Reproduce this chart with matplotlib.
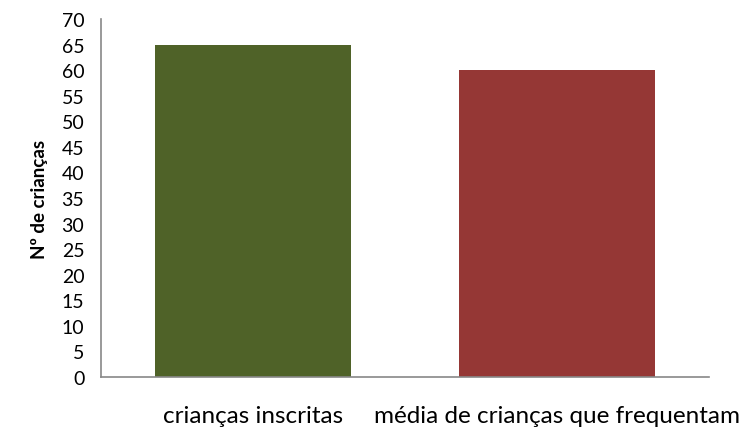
import matplotlib
matplotlib.use("Agg")
import matplotlib.pyplot as plt

categories = ["crianças inscritas", "média de crianças que frequentam"]
values = [65, 60]
colors = ["#4F6228", "#953735"]
yticks = list(range(0, 75, 5))

plt.rcParams['font.family'] = ['Lato', 'DejaVu Sans']

fig = plt.figure(figsize=(7.47, 4.31), dpi=100)
ax = fig.add_axes([101/747, 1-378/431, 608/747, 358/431])
x = [0, 1]
ax.bar(x, values, width=0.645, color=colors)
ax.set_xlim(-0.5, 1.5)
ax.set_ylim(0, 70)
ax.set_yticks(yticks)
ax.tick_params(axis='y', length=0, labelsize=14, pad=12)
ax.tick_params(axis='x', length=0, labelsize=17.5, pad=20)
ax.set_xticks(x)
ax.set_xticklabels(categories)
for s in ['top', 'right']:
    ax.spines[s].set_visible(False)
for s in ['left', 'bottom']:
    ax.spines[s].set_color('#888888')
    ax.spines[s].set_linewidth(1.2)
ax.set_ylabel("Nº de crianças", fontsize=13.5, fontweight='bold')
ax.yaxis.set_label_coords(-53/608, 0.5)
fig.savefig("out.png", dpi=100)
